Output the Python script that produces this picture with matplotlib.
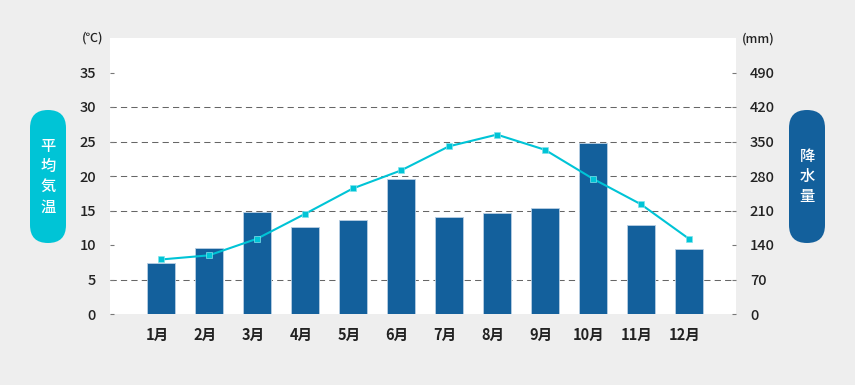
import matplotlib.pyplot as plt
import matplotlib.transforms as mtransforms
from matplotlib.patches import FancyBboxPatch

plt.rcParams['font.family'] = ['Noto Sans CJK JP', 'DejaVu Sans']

# monthly data
months = ['1月', '2月', '3月', '4月', '5月', '6月', '7月', '8月', '9月', '10月', '11月', '12月']
rain_mm = [103, 133, 207, 177, 191, 273, 197, 205, 216, 347, 181, 132]
temp_c = [7.9, 8.5, 10.9, 14.5, 18.2, 20.8, 24.3, 26.0, 23.8, 19.6, 15.9, 10.9]

temp_ticks = [0, 5, 10, 15, 20, 25, 30, 35]
rain_ticks = [0, 70, 140, 210, 280, 350, 420, 490]
grid_mm = [70, 210, 280, 350, 420]  # no dashed line at 140 in the original

bar_color = '#13609c'
line_color = '#00c4d6'
text_color = '#222222'
weight = 'medium'

fig = plt.figure(figsize=(8.55, 3.85), dpi=100, facecolor='#eeeeee')
ax = fig.add_axes([110 / 855, 71 / 385, 626 / 855, 276 / 385])
ax.set_facecolor('white')

x = list(range(len(months)))

# bars: precipitation (right axis)
ax.bar(x, rain_mm, width=0.58, color=bar_color, edgecolor='#b8cfe3', linewidth=0.6, zorder=3)
for g in grid_mm:
    ax.axhline(g, color='#666666', lw=0.75, linestyle=(0, (6, 4)), zorder=1)
ax.set_ylim(0, 560)
ax.set_xlim(-1.06, 11.98)
ax.set_xticks(x)
ax.set_xticklabels(months)

# line: average temperature (left axis)
ax2 = ax.twinx()
ax2.plot(x, temp_c, color=line_color, lw=1.5, marker='s', markersize=5,
         markerfacecolor=line_color, markeredgecolor='#7fe3ec', markeredgewidth=0.5, zorder=5)
ax2.set_ylim(0, 40)
ax2.yaxis.tick_left()
ax2.set_yticks(temp_ticks)

ax.yaxis.tick_right()
ax.set_yticks(rain_ticks)

ax.tick_params(axis='x', length=0, pad=9, labelsize=10.5, labelcolor=text_color)
for a in (ax, ax2):
    a.tick_params(axis='y', direction='in', length=3, width=0.8, color='#777777',
                  pad=10, labelsize=10.5, labelcolor=text_color)
    for lab in a.get_yticklabels():
        lab.set_fontweight(weight)
    for s in a.spines.values():
        s.set_visible(False)

shift = mtransforms.ScaledTranslation(-4 / 100, 0, fig.dpi_scale_trans)
for lab in ax.get_xticklabels():
    lab.set_fontweight('bold')
    lab.set_transform(lab.get_transform() + shift)

# units
fig.text(93 / 855, 1 - 38 / 385, '(℃)', ha='center', va='center', fontsize=9,
         color=text_color, fontweight=weight)
fig.text(758 / 855, 1 - 39 / 385, '(mm)', ha='center', va='center', fontsize=9,
         color=text_color, fontweight=weight)

# pill labels in pixel coordinates
ov = fig.add_axes([0, 0, 1, 1], facecolor='none')
ov.set_xlim(0, 855)
ov.set_ylim(385, 0)
ov.axis('off')
for x0, color, label in [(30, line_color, '平\n均\n気\n温'), (789, bar_color, '降\n水\n量')]:
    w, h = 36, 133
    pill = FancyBboxPatch((x0 + w / 2, 110 + w / 2), 0, h - w,
                          boxstyle='round,pad=18,rounding_size=18',
                          facecolor=color, edgecolor='none')
    ov.add_patch(pill)
    ov.text(x0 + w / 2, 110 + h / 2, label, ha='center', va='center', color='white',
            fontsize=11, fontweight=weight, linespacing=1.25)

fig.savefig('out.png', dpi=100, facecolor=fig.get_facecolor())
